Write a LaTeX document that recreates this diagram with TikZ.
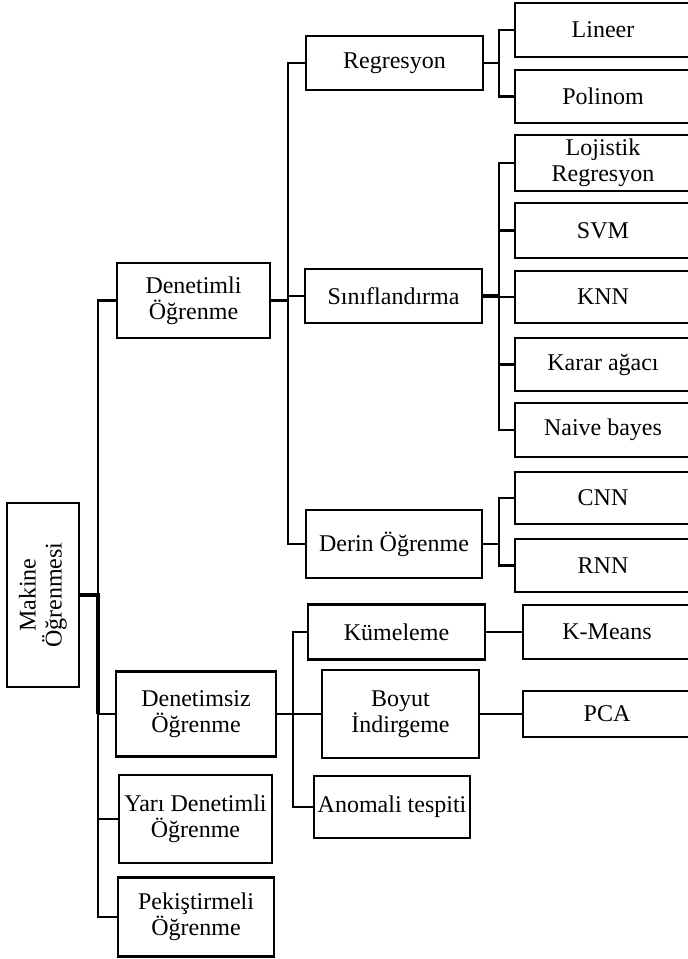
\documentclass[tikz,border=0pt]{standalone}
\usepackage{fontspec}
\setmainfont{Liberation Serif}
\begin{document}
\begin{tikzpicture}[x=1pt,y=-1pt,
  box/.style={draw, line width=2.8pt, inner sep=0pt, align=center,
              font=\fontsize{24}{26}\selectfont},
  sz/.style n args={2}{minimum width=#1, minimum height=#2},
  leaf/.style={box, minimum width=176pt, minimum height=#1},
  conn/.style={line width=2.2pt},
  trunk/.style={line width=3.2pt}]
\useasboundingbox (0,0) rectangle (688,959);
\clip (0,0) rectangle (688,959);

% root
\node[box, sz={72pt}{184pt}] (mk) at (43,595) {};
\node[rotate=90, align=center, inner sep=0pt,
      font=\fontsize{24}{26}\selectfont] (mklabel) at (mk.center) {Makine\\Öğrenmesi};

% first level
\node[box, sz={153pt}{75pt}] (den)  at (193.5,300.5) {Denetimli\\Öğrenme};
\node[box, sz={160pt}{85pt}] (dsz)  at (196,714)     {Denetimsiz\\Öğrenme};
\node[box, sz={153pt}{88pt}] (yari) at (195.5,819)   {Yarı Denetimli\\Öğrenme};
\node[box, sz={156pt}{79pt}] (pek)  at (196,917)     {Pekiştirmeli\\Öğrenme};

% second level
\node[box, sz={177pt}{54pt}] (reg) at (394.5,63)  {Regresyon};
\node[box, sz={177pt}{54pt}] (sin) at (393.5,296) {Sınıflandırma};
\node[box, sz={176pt}{68pt}] (der) at (394,544)   {Derin Öğrenme};
\node[box, sz={177pt}{55pt}] (kum) at (396.5,632) {Kümeleme};
\node[box, sz={157pt}{88pt}] (boy) at (400.5,714) {Boyut\\İndirgeme};
\node[box, sz={156pt}{62pt}] (ano) at (392,807)   {Anomali tespiti};

% leaves
\node[leaf=54pt] (lin) at (603,30)    {Lineer};
\node[leaf=53pt] (pol) at (603,96.5)  {Polinom};
\node[leaf=56pt] (loj) at (603,163)   {Lojistik\\Regresyon};
\node[leaf=55pt] (svm) at (603,230.5) {SVM};
\node[leaf=52pt] (knn) at (603,297)   {KNN};
\node[leaf=53pt] (kar) at (603,364.5) {Karar ağacı};
\node[leaf=54pt] (nai) at (603,430)   {Naive bayes};
\node[leaf=52pt] (cnn) at (603,498)   {CNN};
\node[leaf=53pt] (rnn) at (603,565.5) {RNN};
\node[box, sz={168pt}{54pt}] (kmeans) at (607,632) {K-Means};
\node[box, sz={168pt}{46pt}] (pca)    at (607,714) {PCA};

% vertical bus positions
\coordinate (tA) at (98,0);
\coordinate (tB) at (288,0);
\coordinate (tC) at (499,0);
\coordinate (tD) at (293,0);

% root to first level
\draw[conn] (den.west) -- (den.west -| tA) -- (pek.west -| tA) -- (pek.west);
\draw[conn] (yari.west) -- (yari.west -| tA);
\draw[conn] (dsz.west) -- (dsz.west -| tA);
\draw[trunk] (mk.east) -- (mk.east -| tA) -- (dsz.west -| tA);

% supervised branch
\draw[conn] (den.east) -- (den.east -| tB);
\draw[conn] (reg.west) -- (reg.west -| tB) -- (der.west -| tB) -- (der.west);
\draw[conn] (sin.west) -- (sin.west -| tB);

\draw[conn] (reg.east) -- (reg.east -| tC);
\draw[conn] (lin.west) -- (lin.west -| tC) -- (pol.west -| tC) -- (pol.west);

\draw[trunk] (sin.east) -- (sin.east -| tC);
\draw[conn] (loj.west) -- (loj.west -| tC) -- (nai.west -| tC) -- (nai.west);
\draw[conn] (svm.west) -- (svm.west -| tC);
\draw[conn] (knn.west) -- (knn.west -| tC);
\draw[conn] (kar.west) -- (kar.west -| tC);

\draw[conn] (der.east) -- (der.east -| tC);
\draw[conn] (cnn.west) -- (cnn.west -| tC) -- (rnn.west -| tC) -- (rnn.west);

% unsupervised branch
\draw[conn] (dsz.east) -- (dsz.east -| boy.west);
\draw[conn] (kum.west) -- (kum.west -| tD) -- (ano.west -| tD) -- (ano.west);
\draw[conn] (kum.east) -- (kum.east -| kmeans.west);
\draw[conn] (boy.east) -- (boy.east -| pca.west);
\end{tikzpicture}
\end{document}
